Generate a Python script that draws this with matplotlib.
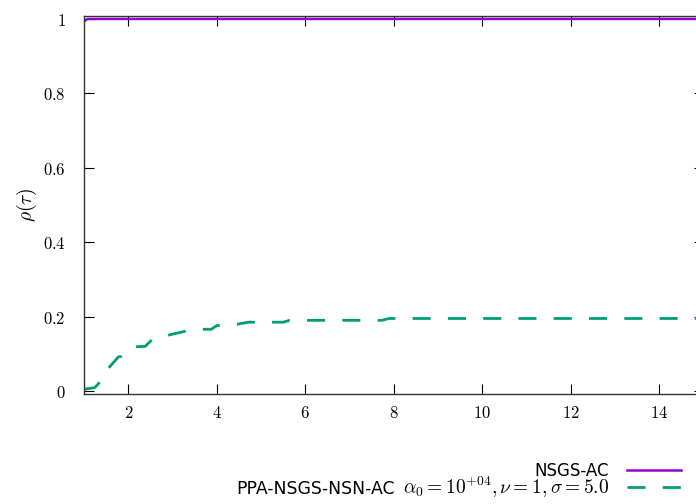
import matplotlib
matplotlib.use('Agg')
import matplotlib.pyplot as plt

plt.rcParams['mathtext.fontset'] = 'cm'

# performance profile data
tau_nsgs = [1.0, 1.08, 15.0]
rho_nsgs = [0.994, 1.0, 1.0]

tau_ppa = [1.0, 1.02, 1.24, 1.36, 1.55, 1.78, 1.85, 2.17, 2.38, 2.53, 2.9, 3.3,
           3.7, 3.88, 4.0, 4.07, 4.49, 4.71, 4.9, 5.28, 5.5, 5.65, 7.73, 7.9, 15.0]
rho_ppa = [0.005, 0.005, 0.009, 0.024, 0.061, 0.092, 0.093, 0.119, 0.120, 0.137,
           0.150, 0.161, 0.166, 0.166, 0.176, 0.176, 0.180, 0.185, 0.185, 0.185,
           0.185, 0.190, 0.190, 0.195, 0.195]

name_nsgs = 'NSGS-AC'
name_ppa = 'PPA-NSGS-NSN-AC'
params_ppa = r'$\alpha_0 = 10^{+04}, \nu = 1, \sigma = 5.0$'
xticks = [2, 4, 6, 8, 10, 12, 14]
yticks = [0, 0.2, 0.4, 0.6, 0.8, 1]
yticklabels = ['$0$', '$0.2$', '$0.4$', '$0.6$', '$0.8$', '$1$']

W, H = 696, 504
fig = plt.figure(figsize=(W / 100, H / 100), dpi=100)
ax = fig.add_axes([84 / W, (H - 394) / H, (703.5 - 84) / W, 378 / H])

l1, = ax.plot(tau_nsgs, rho_nsgs, color='#9400d3', lw=1.8)
l2, = ax.plot(tau_ppa, rho_ppa, color='#009e73', lw=2.0, dashes=(6.5, 6.2))

ax.set_xlim(1, 15)
ax.set_ylim(-0.008, 1.008)
ax.set_xticks(xticks)
ax.set_xticklabels(['$%d$' % t for t in xticks])
ax.set_yticks(yticks)
ax.set_yticklabels(yticklabels)
ax.tick_params(direction='in', length=7, width=0.8, top=True, right=True,
               labelsize=12)
ax.tick_params(axis='x', pad=7)
ax.tick_params(axis='y', pad=13)
for s in ax.spines.values():
    s.set_color('#333333')
    s.set_linewidth(1.0)
ax.set_ylabel(r'$\rho(\tau)$', fontsize=14, labelpad=3)

# legend, one row per entry (gnuplot style: text right, sample line after it)
leg1 = fig.legend([l1], [name_nsgs], loc='center right',
                  bbox_to_anchor=(681 / W, (H - 471) / H), frameon=False,
                  markerfirst=False, fontsize=12, handlelength=3.24,
                  handletextpad=1.08, borderpad=0, borderaxespad=0)
leg2 = fig.legend([l2], [params_ppa], loc='center right',
                  bbox_to_anchor=(681 / W, (H - 487.5) / H), frameon=False,
                  markerfirst=False, fontsize=14, handlelength=2.78,
                  handletextpad=0.93, borderpad=0, borderaxespad=0)

fig.canvas.draw()
bb = leg2.get_texts()[0].get_window_extent()
fig.text((bb.x0 - 8) / W, (H - 494.3) / H, name_ppa, ha='right', va='baseline',
         fontsize=12.4)

fig.savefig('out.png', dpi=100)
